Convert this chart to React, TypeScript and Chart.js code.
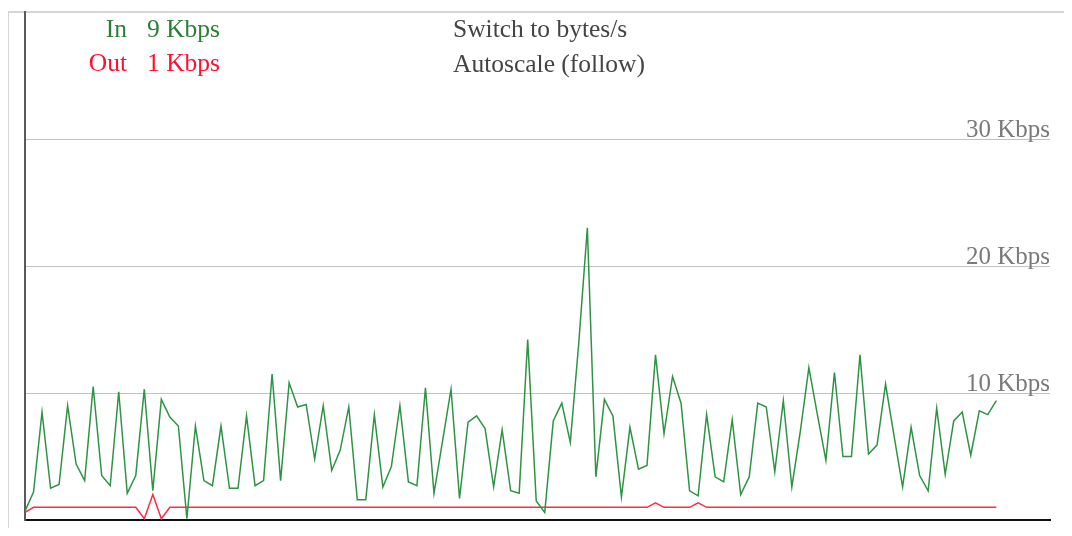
import React, { useEffect, useRef } from "react";
import { Chart, registerables } from "chart.js";

Chart.register(...registerables);

// Traffic samples in Kbps, one per interval (oldest first)
const inKbps = [
  0.7, 2.2, 8.5, 2.5, 2.8, 9.0, 4.4, 3.1, 10.5, 3.5,
  2.7, 10.1, 2.1, 3.5, 10.3, 2.3, 9.5, 8.1, 7.4, 0.1,
  7.4, 3.1, 2.7, 7.4, 2.5, 2.5, 8.2, 2.7, 3.1, 11.5,
  3.1, 10.8, 8.9, 9.1, 4.8, 9.0, 3.9, 5.5, 8.9, 1.6,
  1.6, 8.3, 2.6, 4.2, 9.0, 3.0, 2.7, 10.4, 2.1, 6.2,
  10.3, 1.7, 7.7, 8.2, 7.2, 2.6, 7.1, 2.3, 2.1, 14.2,
  1.5, 0.6, 7.8, 9.2, 6.1, 14.0, 23.0, 3.4, 9.5, 8.2,
  1.8, 7.3, 4.0, 4.3, 13.0, 6.8, 11.3, 9.2, 2.3, 1.9,
  8.3, 3.4, 3.0, 7.9, 2.0, 3.4, 9.2, 8.9, 3.8, 9.4,
  2.6, 7.0, 12.0, 8.3, 4.7, 11.6, 5.0, 5.0, 13.0, 5.2,
  5.9, 10.7, 6.6, 2.6, 7.3, 3.5, 2.3, 8.8, 3.6, 7.8,
  8.5, 5.1, 8.6, 8.3, 9.4,
];

const outKbps = [
  0.6, 1.0, 1.0, 1.0, 1.0, 1.0, 1.0, 1.0, 1.0, 1.0,
  1.0, 1.0, 1.0, 1.0, 0.1, 2.0, 0.1, 1.0, 1.0, 1.0,
  1.0, 1.0, 1.0, 1.0, 1.0, 1.0, 1.0, 1.0, 1.0, 1.0,
  1.0, 1.0, 1.0, 1.0, 1.0, 1.0, 1.0, 1.0, 1.0, 1.0,
  1.0, 1.0, 1.0, 1.0, 1.0, 1.0, 1.0, 1.0, 1.0, 1.0,
  1.0, 1.0, 1.0, 1.0, 1.0, 1.0, 1.0, 1.0, 1.0, 1.0,
  1.0, 1.0, 1.0, 1.0, 1.0, 1.0, 1.0, 1.0, 1.0, 1.0,
  1.0, 1.0, 1.0, 1.0, 1.35, 1.0, 1.0, 1.0, 1.0, 1.35,
  1.0, 1.0, 1.0, 1.0, 1.0, 1.0, 1.0, 1.0, 1.0, 1.0,
  1.0, 1.0, 1.0, 1.0, 1.0, 1.0, 1.0, 1.0, 1.0, 1.0,
  1.0, 1.0, 1.0, 1.0, 1.0, 1.0, 1.0, 1.0, 1.0, 1.0,
  1.0, 1.0, 1.0, 1.0, 1.0,
];

const yTickValues = [0, 10, 20, 30];
const yTickLabels = ["", "10 Kbps", "20 Kbps", "30 Kbps"];

const legendLabels = ["In", "Out"];
const legendValues = ["9 Kbps", "1 Kbps"];
const menuItems = ["Switch to bytes/s", "Autoscale (follow)"];

const X_MAX = 120.3; // graph capacity in samples
const Y_MAX = 40; // Kbps at top of graph

const GREEN_LINE = "#2e9444";
const RED_LINE = "#ff2a44";
const GREEN_TEXT = "#2a7f37";
const RED_TEXT = "#ff1030";
const FONT = "'Liberation Serif', 'Times New Roman', serif";

const CW = 1056;
const CH = 520;

function Text({ x, baseline, color, children, alignRight }: any) {
  return (
    <div
      style={{
        position: "absolute",
        left: x - 8,
        top: baseline - 8 - 21,
        transform: alignRight ? "translateX(-100%)" : undefined,
        fontFamily: FONT,
        fontSize: 25.5,
        lineHeight: "25px",
        whiteSpace: "nowrap",
        color,
      }}
    >
      {children}
    </div>
  );
}

export default function App() {
  const canvasRef = useRef<HTMLCanvasElement | null>(null);

  useEffect(() => {
    const canvas = canvasRef.current;
    if (!canvas) return;
    const setTicks = (scale: any) => {
      scale.ticks = yTickValues.map((v) => ({ value: v }));
    };
    const noPad = (scale: any) => {
      scale.paddingTop = 0;
      scale.paddingBottom = 0;
    };
    const chart = new Chart(canvas, {
      type: "line",
      data: {
        datasets: [
          {
            label: "In",
            data: inKbps.map((v, i) => ({ x: i, y: v })),
            borderColor: GREEN_LINE,
            borderWidth: 1.5,
            pointRadius: 0,
            tension: 0,
            fill: false,
          },
          {
            label: "Out",
            data: outKbps.map((v, i) => ({ x: i, y: v })),
            borderColor: RED_LINE,
            borderWidth: 1.5,
            pointRadius: 0,
            tension: 0,
            fill: false,
          },
        ],
      },
      options: {
        animation: false,
        responsive: false,
        maintainAspectRatio: false,
        layout: { padding: { left: 17, top: 4, right: 14, bottom: 8 } },
        plugins: {
          legend: { display: false },
          tooltip: { enabled: false },
          title: { display: false },
        },
        scales: {
          x: {
            type: "linear",
            min: 0,
            max: X_MAX,
            ticks: { display: false },
            grid: { display: false, drawTicks: false },
            border: { display: true, color: "#111", width: 2 },
          },
          y: {
            type: "linear",
            position: "left",
            min: 0,
            max: Y_MAX,
            afterBuildTicks: setTicks,
            afterFit: noPad,
            ticks: { display: false },
            grid: {
              drawTicks: false,
              lineWidth: 1,
              color: (ctx: any) =>
                ctx.tick && ctx.tick.value === 0 ? "rgba(0,0,0,0)" : "#c2c2c2",
            },
            border: { display: true, color: "#5a5a5a", width: 2 },
          },
          yLabels: {
            type: "linear",
            position: "right",
            min: 0,
            max: Y_MAX,
            afterBuildTicks: setTicks,
            afterFit: noPad,
            grid: { display: false, drawTicks: false },
            border: { display: false },
            ticks: {
              mirror: true,
              padding: 0,
              labelOffset: -9,
              color: "#7a7a7a",
              font: { family: FONT, size: 25 },
              callback: (value: any) => {
                const i = yTickValues.indexOf(Number(value));
                return i >= 0 ? yTickLabels[i] : "";
              },
            },
          },
        },
      },
    });
    return () => chart.destroy();
  }, []);

  return (
    <div style={{ position: "relative", width: CW, height: CH }}>
      <div
        style={{
          position: "absolute",
          left: 0,
          top: 3,
          width: CW,
          height: 521,
          borderTop: "2px solid #d6d6d6",
          borderLeft: "1px solid #d6d6d6",
          borderBottom: "1px solid #ececec",
          boxSizing: "border-box",
        }}
      />
      <canvas
        ref={canvasRef}
        width={CW}
        height={CH}
        style={{ position: "absolute", left: 0, top: 0, width: CW, height: CH }}
      />
      <Text x={127} baseline={37} color={GREEN_TEXT} alignRight>
        {legendLabels[0]}
      </Text>
      <Text x={220} baseline={37} color={GREEN_TEXT} alignRight>
        {legendValues[0]}
      </Text>
      <Text x={127} baseline={71} color={RED_TEXT} alignRight>
        {legendLabels[1]}
      </Text>
      <Text x={220} baseline={71} color={RED_TEXT} alignRight>
        {legendValues[1]}
      </Text>
      <Text x={453} baseline={36.5} color="#444">
        {menuItems[0]}
      </Text>
      <Text x={453} baseline={71.5} color="#444">
        {menuItems[1]}
      </Text>
    </div>
  );
}
